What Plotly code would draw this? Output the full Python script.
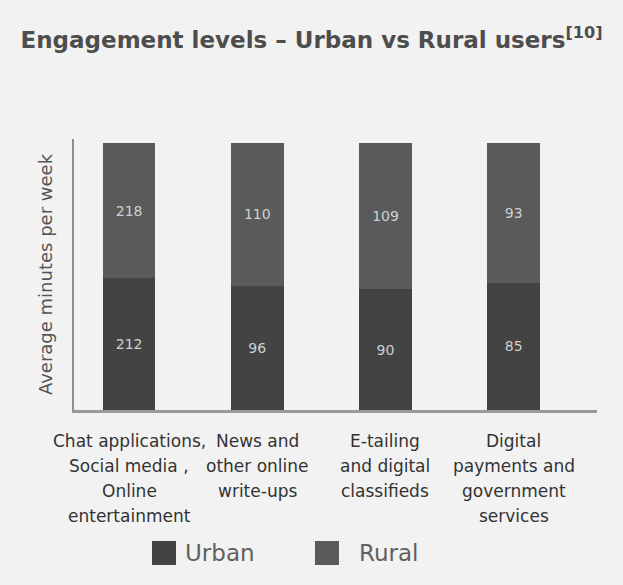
import plotly.graph_objects as go

categories = [
    "Chat applications,<br>Social media ,<br>Online<br>entertainment",
    "News and<br>other online<br>write-ups",
    "E-tailing<br>and digital<br>classifieds",
    "Digital<br>payments and<br>government<br>services",
]
series_names = ["Urban", "Rural"]
urban = [212, 96, 90, 85]
rural = [218, 110, 109, 93]
colors = {"Urban": "#434343", "Rural": "#5a5a5a"}

BG = "#f2f2f2"
FONT = "DejaVu Sans"
L, R, T, B = 74, 26, 139, 175
W, H = 623, 585
plot_w = W - L - R
plot_h = H - T - B


def px_x(p):
    return (p - L) / plot_w


def px_y(p):
    return (H - B - p) / plot_h


fig = go.Figure()
for name, vals in zip(series_names, [urban, rural]):
    fig.add_trace(go.Bar(
        name=name, x=list(range(len(categories))), y=vals, text=vals,
        marker=dict(color=colors[name], line=dict(width=0)),
        textposition="inside", insidetextanchor="middle",
        textfont=dict(color="#cfcfcf", size=14, family=FONT),
        width=0.41, showlegend=False,
    ))

# category labels, one line per annotation for wider line spacing
for i, cat in enumerate(categories):
    for j, line in enumerate(cat.split("<br>")):
        fig.add_annotation(
            x=i, xref="x", y=px_y(441 + 25 * j), yref="paper",
            text=line, showarrow=False, xanchor="center", yanchor="middle",
            font=dict(size=17, color="#333333", family=FONT),
        )

# legend drawn as large squares with labels
legend_pos = {"Urban": (152, 183), "Rural": (315, 357)}
for name in series_names:
    sx, tx = legend_pos[name]
    fig.add_shape(
        type="rect", xref="paper", yref="paper",
        x0=px_x(sx), x1=px_x(sx + 24), y0=px_y(565), y1=px_y(541),
        fillcolor=colors[name], line=dict(width=0),
    )
    fig.add_annotation(
        x=px_x(tx), xref="paper", y=px_y(553), yref="paper",
        text=name, showarrow=False, xanchor="left", yanchor="middle",
        font=dict(size=23, color="#606060", family=FONT),
    )

fig.update_layout(
    barmode="stack", barnorm="percent",
    width=W, height=H,
    margin=dict(l=L, r=R, t=T, b=B),
    paper_bgcolor=BG, plot_bgcolor=BG,
    font=dict(family=FONT, color="#555555"),
    title=dict(
        text="<b>Engagement levels – Urban vs Rural users<sup>[10]</sup></b>",
        x=0.5, xanchor="center", y=1 - 40 / H, yanchor="middle",
        font=dict(size=23, color="#4d4d4d", family=FONT),
    ),
    xaxis=dict(
        range=[-0.43, 3.65], showticklabels=False, showgrid=False, zeroline=False,
        showline=True, linecolor="#999999", linewidth=3, ticks="",
    ),
    yaxis=dict(
        range=[0, 101.5], showticklabels=False, showgrid=False, zeroline=False,
        showline=True, linecolor="#8f8f8f", linewidth=2, ticks="",
        title=dict(text="Average minutes per week", font=dict(size=18, color="#555555")),
    ),
    showlegend=False,
)

fig.write_html("out.html")
